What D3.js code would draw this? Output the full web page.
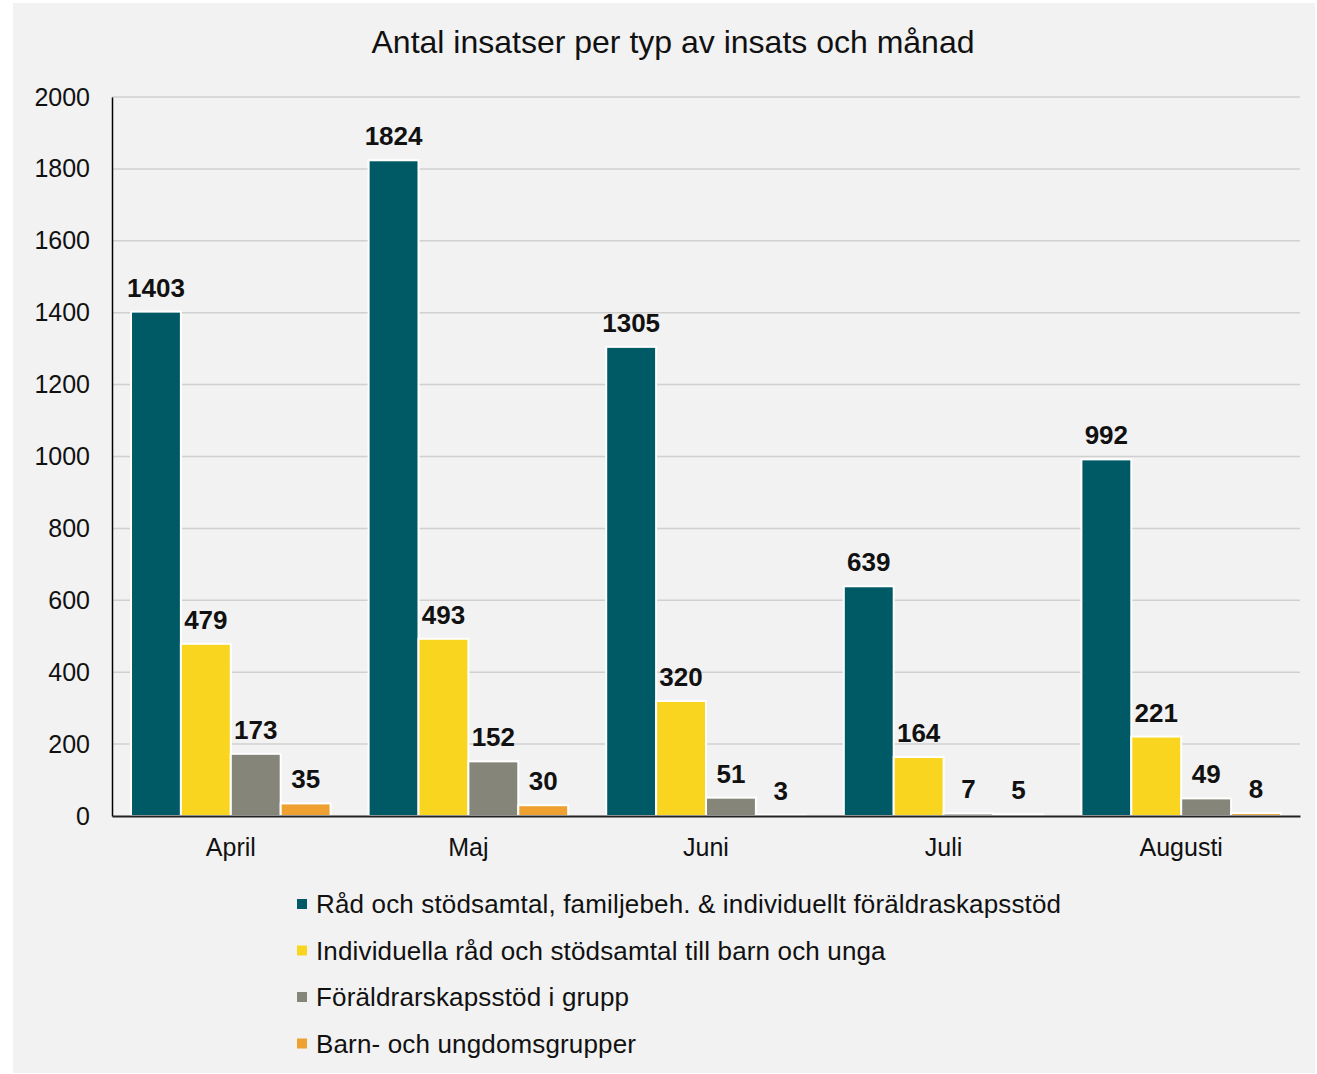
<!DOCTYPE html>
<html>
<head>
<meta charset="utf-8">
<script src="https://cdn.jsdelivr.net/npm/d3@7"></script>
<style>
  html, body { margin: 0; padding: 0; background: #ffffff; }
  svg { display: block; }
  text { font-family: "Liberation Sans", Arial, sans-serif; }
</style>
</head>
<body>
<svg id="chart" width="1317" height="1074"></svg>
<script>
const months = ["April", "Maj", "Juni", "Juli", "Augusti"];
const seriesNames = [
  "Råd och stödsamtal, familjebeh. & individuellt föräldraskapsstöd",
  "Individuella råd och stödsamtal till barn och unga",
  "Föräldrarskapsstöd i grupp",
  "Barn- och ungdomsgrupper"
];
const radStod = [1403, 1824, 1305, 639, 992];
const individuella = [479, 493, 320, 164, 221];
const foraldraGrupp = [173, 152, 51, 7, 49];
const barnGrupper = [35, 30, 3, 5, 8];
const yTicks = [0, 200, 400, 600, 800, 1000, 1200, 1400, 1600, 1800, 2000];
const colors = ["#005a66", "#fad520", "#85857a", "#eea030"];
const title = "Antal insatser per typ av insats och månad";

const seriesValues = [radStod, individuella, foraldraGrupp, barnGrupper];

const svg = d3.select("#chart");
svg.append("rect").attr("x", 13).attr("y", 3).attr("width", 1302).attr("height", 1070).attr("fill", "#f2f2f2");

const pLeft = 112, pRight = 1300, pTop = 97, pBottom = 816;

const y = d3.scaleLinear().domain([0, 2000]).range([pBottom, pTop]);
const x0 = d3.scaleBand().domain(months).range([pLeft, pRight]).paddingInner(0.16).paddingOuter(0.08);
const x1 = d3.scaleBand().domain(d3.range(seriesNames.length)).range([0, x0.bandwidth()]);

// gridlines
svg.append("g").selectAll("line").data(yTicks.filter(d => d > 0)).join("line")
  .attr("x1", pLeft).attr("x2", pRight)
  .attr("y1", d => y(d)).attr("y2", d => y(d))
  .attr("stroke", "#d0d0d0").attr("stroke-width", 1.5);

// y axis
const yAxis = d3.axisLeft(y).tickValues(yTicks).tickFormat(d3.format("d")).tickSize(0).tickPadding(22);
const gy = svg.append("g").attr("transform", `translate(${pLeft},0)`).call(yAxis);
gy.select(".domain").attr("stroke", "#000").attr("stroke-width", 1.5);
gy.selectAll("text").attr("font-size", 25).attr("fill", "#111").attr("font-family", "'Liberation Sans', Arial, sans-serif");

// bars
const groups = svg.append("g").selectAll("g").data(months).join("g")
  .attr("transform", d => `translate(${x0(d)},0)`);

groups.selectAll("rect").data((m, i) => seriesValues.map((s, k) => ({k, v: s[i]}))).join("rect")
  .attr("x", d => x1(d.k))
  .attr("width", x1.bandwidth())
  .attr("y", d => y(d.v))
  .attr("height", d => y(0) - y(d.v))
  .attr("fill", d => colors[d.k])
  .attr("stroke", "#ffffff").attr("stroke-width", 2);

groups.selectAll("text").data((m, i) => seriesValues.map((s, k) => ({k, v: s[i]}))).join("text")
  .attr("x", d => x1(d.k) + x1.bandwidth() / 2)
  .attr("y", d => y(d.v) - 15)
  .attr("text-anchor", "middle")
  .attr("font-size", 26).attr("font-weight", "bold").attr("fill", "#111")
  .text(d => d.v);

// x axis
const xAxis = d3.axisBottom(x0).tickSize(0).tickPadding(22);
const gx = svg.append("g").attr("transform", `translate(0,${pBottom})`).call(xAxis);
gx.select(".domain").attr("stroke", "#222").attr("stroke-width", 2);
gx.selectAll("text").attr("font-size", 25).attr("fill", "#111").attr("font-family", "'Liberation Sans', Arial, sans-serif");

// title
svg.append("text").attr("x", 673).attr("y", 53).attr("text-anchor", "middle")
  .attr("font-size", 32).attr("fill", "#111").text(title);

// legend
const legend = svg.append("g").selectAll("g").data(seriesNames).join("g")
  .attr("transform", (d, i) => `translate(297,${904 + i * 46.5})`);
legend.append("rect").attr("x", 0).attr("y", -5).attr("width", 10).attr("height", 10)
  .attr("fill", (d, i) => colors[i]);
legend.append("text").attr("x", 19).attr("y", 9).attr("font-size", 26)
  .attr("letter-spacing", 0.15).attr("fill", "#111").text(d => d);
</script>
</body>
</html>
